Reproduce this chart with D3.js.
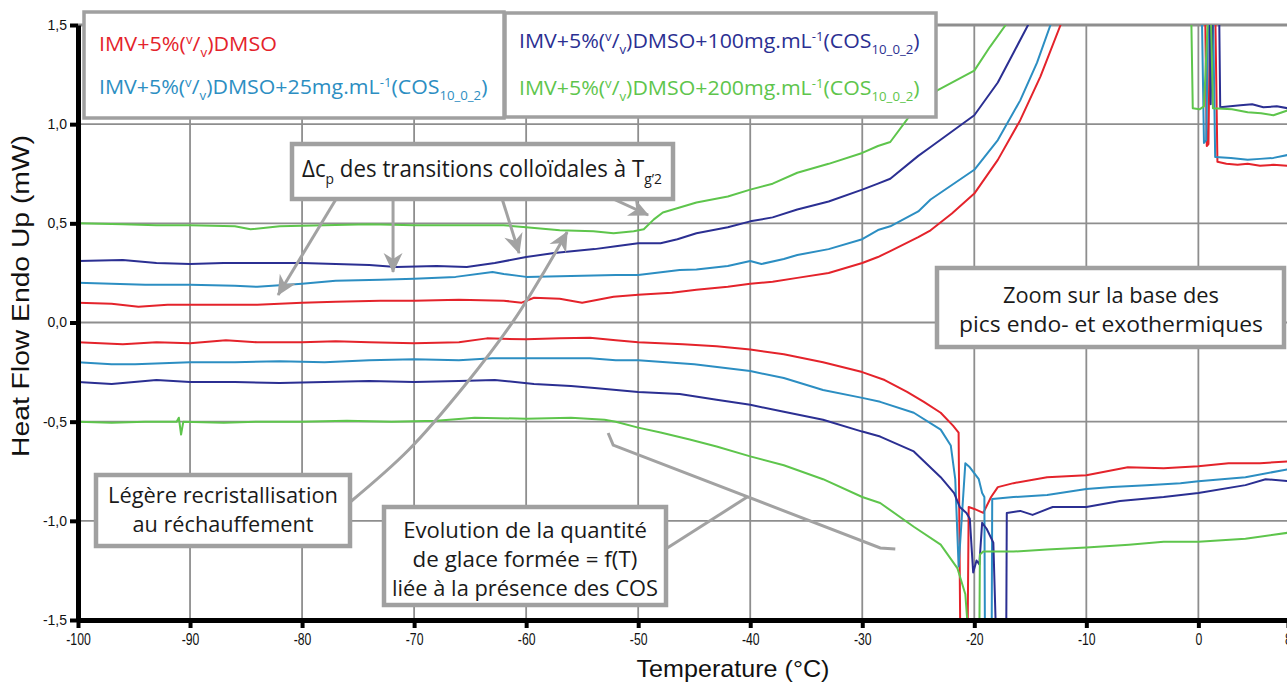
<!DOCTYPE html>
<html lang="fr">
<head>
<meta charset="UTF-8">
<title>DSC - Heat Flow</title>
<script src="https://cdn.jsdelivr.net/npm/d3@7"></script>
<style>
  body { margin: 0; background: #fff; }
  svg { display: block; }
</style>
</head>
<body>
<div id="chart"></div>
<script>
// ---- data (temperature in °C, heat flow in mW) ----
const xTicks = [-100, -90, -80, -70, -60, -50, -40, -30, -20, -10, 0, 8];
const xTickLabels = ["-100", "-90", "-80", "-70", "-60", "-50", "-40", "-30", "-20", "-10", "0", "8"];
const yTicks = [-1.5, -1, -0.5, 0, 0.5, 1, 1.5];
const yTickLabels = ["-1,5", "-1,0", "-0,5", "0,0", "0,5", "1,0", "1,5"];

// heating curves (upper), they leave the frame at the melting peak and come back near 0 °C
const redHeat = [[-100,0.10],[-97,0.095],[-94.6,0.08],[-92,0.09],[-88,0.09],[-84,0.09],[-80,0.10],[-77,0.105],[-73,0.11],[-70,0.11],[-66,0.115],[-62,0.11],[-60.4,0.10],[-59.3,0.125],[-57,0.12],[-55,0.10],[-52.2,0.13],[-50,0.14],[-47,0.15],[-44.8,0.165],[-42,0.18],[-40,0.195],[-38,0.205],[-35.8,0.225],[-33,0.25],[-30,0.30],[-28.6,0.33],[-27.5,0.36],[-25,0.43],[-23.9,0.465],[-22,0.55],[-20,0.65],[-17.9,0.82],[-15.9,1.02],[-14.1,1.24],[-12.3,1.5],[-12,1.6],[0.6,1.6],[0.75,0.89],[0.9,0.9],[1.05,1.6],[1.5,1.6],[1.7,0.81],[2.5,0.80],[3.5,0.795],[4.4,0.80],[5.5,0.79],[6.7,0.795],[8,0.79]];
const cyanHeat = [[-100,0.20],[-97,0.195],[-94,0.19],[-90,0.19],[-86,0.185],[-84,0.18],[-80,0.195],[-77,0.21],[-73,0.215],[-70,0.22],[-66.3,0.23],[-63,0.255],[-62,0.245],[-60,0.23],[-56,0.235],[-52,0.24],[-50,0.24],[-46.3,0.265],[-44.8,0.267],[-42,0.285],[-40,0.31],[-39,0.295],[-37,0.32],[-35.8,0.34],[-33,0.37],[-30,0.42],[-28.6,0.466],[-27.5,0.485],[-25,0.56],[-23.9,0.62],[-20,0.77],[-17.9,0.92],[-15.9,1.12],[-14.4,1.31],[-13.2,1.5],[-13,1.6],[0.3,1.6],[0.5,0.905],[0.7,0.92],[0.9,1.6],[1.3,1.6],[1.5,0.835],[2.9,0.83],[4.4,0.82],[5.5,0.825],[6.7,0.83],[8,0.845]];
const blueHeat = [[-100,0.31],[-96,0.315],[-93,0.30],[-90,0.295],[-87,0.30],[-84,0.30],[-80,0.30],[-77,0.295],[-74,0.29],[-71.6,0.28],[-68,0.285],[-65.3,0.28],[-62.8,0.30],[-60,0.33],[-57.5,0.35],[-53.9,0.37],[-52,0.385],[-50,0.40],[-48,0.40],[-46.5,0.42],[-44.8,0.45],[-42,0.48],[-40,0.51],[-38,0.53],[-35.8,0.57],[-33,0.61],[-30,0.67],[-28.6,0.70],[-27.5,0.725],[-25,0.84],[-23.9,0.885],[-20,1.045],[-17.9,1.21],[-16.5,1.36],[-15.2,1.5],[-15,1.6],[1.0,1.6],[1.1,1.1],[1.3,1.6],[1.85,1.6],[1.95,1.085],[3.75,1.095],[4.8,1.10],[5.8,1.085],[7,1.09],[8,1.08]];
const greenHeat = [[-100,0.50],[-96,0.495],[-93,0.49],[-90,0.49],[-86,0.485],[-84.6,0.47],[-82,0.485],[-78,0.49],[-74,0.495],[-70,0.49],[-66.3,0.49],[-62,0.49],[-60,0.48],[-57,0.465],[-54,0.46],[-52.2,0.45],[-50.4,0.46],[-49.5,0.47],[-48.6,0.52],[-47.8,0.555],[-46.3,0.58],[-44.8,0.605],[-42,0.635],[-40,0.67],[-38,0.70],[-35.8,0.755],[-33,0.80],[-30,0.855],[-28.6,0.89],[-27.5,0.91],[-25.4,1.07],[-23.3,1.17],[-20,1.27],[-18.6,1.39],[-17.2,1.5],[-17,1.6],[-0.65,1.6],[-0.5,1.08],[0.1,1.075],[0.5,1.09],[0.9,1.6],[1.1,1.6],[1.3,1.08],[3,1.075],[4.4,1.06],[5.6,1.055],[6.7,1.045],[8,1.07]];

// cooling curves (lower), crystallisation exotherm leaves the frame at the bottom
const redCool = [[-100,-0.10],[-96,-0.11],[-93,-0.10],[-90,-0.105],[-86.8,-0.09],[-84,-0.10],[-80,-0.10],[-77,-0.095],[-74,-0.10],[-70,-0.105],[-66,-0.10],[-63.5,-0.08],[-60,-0.085],[-57,-0.08],[-54.3,-0.077],[-52,-0.09],[-50,-0.10],[-46,-0.11],[-43,-0.12],[-40,-0.136],[-37,-0.16],[-33.5,-0.20],[-30,-0.25],[-28,-0.29],[-26,-0.35],[-24.5,-0.40],[-23,-0.455],[-21.9,-0.52],[-21.4,-0.555],[-21.25,-1.6],[-20.6,-1.6],[-20.5,-0.93],[-20,-0.94],[-19.2,-0.96],[-18.5,-0.88],[-17.9,-0.83],[-16.5,-0.81],[-13.5,-0.78],[-10,-0.77],[-6.3,-0.73],[-3.1,-0.735],[0,-0.725],[2.7,-0.71],[5.5,-0.71],[8,-0.70]];
const cyanCool = [[-100,-0.20],[-97,-0.21],[-94.9,-0.21],[-90,-0.20],[-86,-0.20],[-82,-0.195],[-78,-0.20],[-74,-0.19],[-70,-0.185],[-66,-0.19],[-63,-0.18],[-60,-0.18],[-57,-0.18],[-54.3,-0.18],[-52,-0.19],[-50,-0.19],[-45,-0.21],[-40,-0.245],[-37,-0.28],[-33.5,-0.34],[-30,-0.38],[-28.4,-0.40],[-25.4,-0.455],[-23,-0.54],[-22.1,-0.62],[-21.7,-0.79],[-21.4,-1.23],[-20.8,-0.71],[-20.4,-0.73],[-19.6,-0.79],[-19.3,-0.86],[-19.1,-0.88],[-19.05,-1.6],[-18.45,-1.6],[-18.4,-0.89],[-16.5,-0.88],[-13.5,-0.87],[-10,-0.84],[-7.7,-0.83],[-4.6,-0.82],[-1.6,-0.81],[0,-0.80],[4.2,-0.78],[8,-0.74]];
const blueCool = [[-100,-0.30],[-97,-0.31],[-93,-0.29],[-90,-0.30],[-86,-0.30],[-82,-0.305],[-78,-0.30],[-74,-0.295],[-70,-0.30],[-66,-0.295],[-62.8,-0.29],[-59.3,-0.31],[-56,-0.32],[-53.9,-0.33],[-50,-0.35],[-46.3,-0.36],[-43,-0.39],[-40,-0.415],[-37,-0.45],[-33.5,-0.49],[-30,-0.55],[-28.4,-0.575],[-25.4,-0.65],[-23,-0.78],[-21.8,-0.86],[-21.3,-0.93],[-20.7,-0.96],[-20.4,-0.99],[-20.1,-1.26],[-19.8,-1.20],[-19.55,-1.22],[-19.3,-1.01],[-18.9,-1.04],[-18.3,-1.11],[-18.05,-1.6],[-17.15,-1.6],[-17.1,-0.96],[-15.9,-0.95],[-14.8,-0.97],[-13,-0.93],[-10,-0.93],[-7,-0.90],[-3.1,-0.88],[0,-0.86],[4.2,-0.82],[6,-0.79],[8,-0.80]];
const greenCool = [[-100,-0.50],[-97,-0.505],[-94,-0.50],[-91.2,-0.50],[-91,-0.48],[-90.8,-0.565],[-90.6,-0.50],[-87,-0.505],[-84,-0.50],[-80,-0.50],[-76,-0.495],[-72,-0.50],[-68,-0.495],[-64.6,-0.48],[-60,-0.485],[-56,-0.48],[-53,-0.49],[-52,-0.50],[-50,-0.53],[-48,-0.555],[-45.4,-0.59],[-43,-0.625],[-40,-0.675],[-37,-0.72],[-33.5,-0.79],[-30,-0.88],[-28.4,-0.91],[-25.4,-1.03],[-23,-1.12],[-21.5,-1.24],[-20.8,-1.37],[-20.5,-1.6],[-19.55,-1.6],[-19.5,-1.17],[-19.2,-1.155],[-16.5,-1.155],[-13.5,-1.145],[-10,-1.135],[-6.2,-1.12],[-3.1,-1.105],[0,-1.105],[4.2,-1.09],[8,-1.06]];

const seriesColors = ["#e4232b", "#2c8ec2", "#2b2f92", "#5ec54c"];
const heatCurves = [redHeat, cyanHeat, blueHeat, greenHeat];
const coolCurves = [redCool, cyanCool, blueCool, greenCool];

// legend names, split in pieces for super/subscripts
const seriesNames = [
  ["IMV+5%(", {t: "v", k: "sup"}, "/", {t: "v", k: "sub"}, ")DMSO"],
  ["IMV+5%(", {t: "v", k: "sup"}, "/", {t: "v", k: "sub"}, ")DMSO+25mg.mL", {t: "-1", k: "sup"}, "(COS", {t: "10_0_2", k: "sub"}, ")"],
  ["IMV+5%(", {t: "v", k: "sup"}, "/", {t: "v", k: "sub"}, ")DMSO+100mg.mL", {t: "-1", k: "sup"}, "(COS", {t: "10_0_2", k: "sub"}, ")"],
  ["IMV+5%(", {t: "v", k: "sup"}, "/", {t: "v", k: "sub"}, ")DMSO+200mg.mL", {t: "-1", k: "sup"}, "(COS", {t: "10_0_2", k: "sub"}, ")"]
];

// ---- layout ----
const width = 1287, height = 682;
const x = d3.scaleLinear().domain([-100, 8]).range([78, 1288]);
const y = d3.scaleLinear().domain([-1.5, 1.5]).range([620, 25]);
const gridColor = "#8e8e8e", noteColor = "#a2a2a2";
const myriad = "'Open Sans', 'Noto Sans', sans-serif";
const helv = "'Liberation Sans', Arial, sans-serif";

const svg = d3.select("#chart").append("svg")
    .attr("width", width)
    .attr("height", height);

const defs = svg.append("defs");
defs.append("clipPath").attr("id", "plot-clip")
  .append("rect").attr("x", 78).attr("y", 25).attr("width", 1210).attr("height", 595);
defs.append("marker")
    .attr("id", "arrow")
    .attr("markerUnits", "userSpaceOnUse")
    .attr("viewBox", "-20 -10 21 20")
    .attr("markerWidth", 21).attr("markerHeight", 20)
    .attr("refX", 0).attr("refY", 0)
    .attr("orient", "auto")
  .append("path")
    .attr("d", "M1,0 L-19,-9.5 L-13,0 L-19,9.5 Z")
    .attr("fill", noteColor);

// grid
svg.append("g").selectAll("line")
  .data(xTicks.filter(d => d > -100 && d < 8))
  .enter().append("line")
    .attr("x1", d => x(d)).attr("x2", d => x(d))
    .attr("y1", y(1.5)).attr("y2", y(-1.5))
    .attr("stroke", gridColor).attr("stroke-width", 1.8);
svg.append("g").selectAll("line")
  .data(yTicks.filter(d => d > -1.5))
  .enter().append("line")
    .attr("x1", x(-100)).attr("x2", x(8))
    .attr("y1", d => y(d)).attr("y2", d => y(d))
    .attr("stroke", gridColor).attr("stroke-width", d => d === 1.5 ? 3 : 1.8);

// curves
const line = d3.line().x(d => x(d[0])).y(d => y(d[1]));
const curves = svg.append("g").attr("clip-path", "url(#plot-clip)");
[coolCurves, heatCurves].forEach(set => {
  curves.selectAll(null)
    .data(set)
    .enter().append("path")
      .attr("d", line)
      .attr("fill", "none")
      .attr("stroke", (d, i) => seriesColors[i])
      .attr("stroke-width", 2)
      .attr("stroke-linejoin", "round");
});

// axes
const yAxis = d3.axisLeft(y).tickValues(yTicks)
    .tickFormat((d, i) => yTickLabels[i]).tickSize(8).tickSizeOuter(0).tickPadding(3);
const xAxis = d3.axisBottom(x).tickValues(xTicks)
    .tickFormat((d, i) => xTickLabels[i]).tickSize(8).tickSizeOuter(0).tickPadding(5);

const gx = svg.append("g").attr("transform", `translate(0,${y(-1.5)})`).call(xAxis);
const gy = svg.append("g").attr("transform", `translate(${x(-100)},0)`).call(yAxis);
[gx, gy].forEach(g => {
  g.select(".domain").attr("stroke", "#000").attr("stroke-width", 5);
  g.selectAll(".tick line").attr("stroke", "#000").attr("stroke-width", 4);
  g.selectAll(".tick text").attr("fill", "#111").style("font-family", helv);
});
gx.selectAll(".tick text").style("font-size", "17px").attr("transform", "scale(0.72,1)");
gy.selectAll(".tick text").style("font-size", "14px");

// text helper: pieces with sub/superscripts, stretched to a measured width
function addText(parent, o) {
  const g = parent.append("g").attr("transform", `translate(${o.x},${o.y})` + (o.rotate ? ` rotate(${o.rotate})` : ""));
  const t = g.append("text")
      .attr("text-anchor", o.anchor || "start")
      .attr("fill", o.fill || "#222")
      .style("font-family", o.family || myriad)
      .style("font-size", o.size + "px");
  let off = 0;
  o.parts.forEach(p => {
    const txt = typeof p === "string" ? p : p.t;
    const k = typeof p === "string" ? null : p.k;
    const target = k === "sup" ? -0.36 * o.size : k === "sub" ? 0.3 * o.size : 0;
    const ts = t.append("tspan").attr("dy", target - off).text(txt);
    if (k) ts.style("font-size", (0.62 * o.size) + "px");
    off = target;
  });
  if (o.width) {
    const w = t.node().getBBox().width;
    t.attr("transform", `scale(${o.width / w},1)`);
  }
  return t;
}

// axis titles
addText(svg, {x: 733, y: 677, anchor: "middle", size: 23, family: helv, fill: "#111", width: 193, parts: ["Temperature (°C)"]});
addText(svg, {x: 29, y: 296, rotate: -90, anchor: "middle", size: 24, family: helv, fill: "#111", width: 322, parts: ["Heat Flow Endo Up (mW)"]});

// ---- annotations (anchored in data units) ----
const notes = svg.append("g");
const dcpArrows = [
  [[-76.96, 0.623], [-82.14, 0.139]],
  [[-71.88, 0.623], [-71.88, 0.255]],
  [[-62.14, 0.623], [-60.63, 0.350]],
  [[-52.23, 0.623], [-49.11, 0.542]]
];
const recristLeader = [[-75.7, -0.905], [-70.5, -0.643], [-65.45, -0.315], [-61.07, 0.013], [-58.3, 0.265], [-56.34, 0.456]];
const iceLeaders = [
  [[-52.68, -0.557], [-52.23, -0.618], [-28.39, -1.137], [-27.05, -1.142]],
  [[-47.41, -1.137], [-40.27, -0.880]]
];
dcpArrows.forEach(a => {
  notes.append("path").attr("d", line(a))
    .attr("fill", "none").attr("stroke", noteColor).attr("stroke-width", 3)
    .attr("marker-end", "url(#arrow)");
});
notes.append("path").attr("d", line.curve(d3.curveCatmullRom)(recristLeader))
  .attr("fill", "none").attr("stroke", noteColor).attr("stroke-width", 3)
  .attr("marker-end", "url(#arrow)");
line.curve(d3.curveLinear);
iceLeaders.forEach(a => {
  notes.append("path").attr("d", line(a))
    .attr("fill", "none").attr("stroke", noteColor).attr("stroke-width", 3);
});

// boxes
const boxes = [
  {x: 84, y: 12, w: 420, h: 106, sw: 3.5},
  {x: 505, y: 13, w: 431, h: 104, sw: 3.5},
  {x: 292, y: 144, w: 381, h: 55, sw: 4.5},
  {x: 96, y: 475, w: 254, h: 71, sw: 4.5},
  {x: 384, y: 507, w: 282, h: 98, sw: 4.5},
  {x: 937, y: 268, w: 347, h: 79, sw: 4.5}
];
svg.append("g").selectAll("rect")
  .data(boxes)
  .enter().append("rect")
    .attr("x", d => d.x).attr("y", d => d.y)
    .attr("width", d => d.w).attr("height", d => d.h)
    .attr("fill", "#fff").attr("stroke", "#a0a0a0")
    .attr("stroke-width", d => d.sw);

// legend
const legendPos = [{x: 99, y: 51, w: 178}, {x: 99, y: 94, w: 389}, {x: 519, y: 48, w: 401}, {x: 519, y: 95, w: 401}];
seriesNames.forEach((parts, i) => {
  addText(svg, {x: legendPos[i].x, y: legendPos[i].y, size: 20, fill: seriesColors[i], width: legendPos[i].w, parts: parts});
});

// annotation texts
const noteTexts = [
  {x: 302, y: 177, anchor: "start", size: 24, width: 360, parts: ["Δc", {t: "p", k: "sub"}, " des transitions colloïdales à T", {t: "g’2", k: "sub"}]},
  {x: 223, y: 503, anchor: "middle", width: 230, parts: ["Légère recristallisation"]},
  {x: 223, y: 532, anchor: "middle", width: 181, parts: ["au réchauffement"]},
  {x: 525, y: 538, anchor: "middle", width: 244, parts: ["Evolution de la quantité"]},
  {x: 525, y: 567, anchor: "middle", width: 225, parts: ["de glace formée = f(T)"]},
  {x: 525, y: 596, anchor: "middle", width: 266, parts: ["liée à la présence des COS"]},
  {x: 1111, y: 303, anchor: "middle", width: 216, parts: ["Zoom sur la base des"]},
  {x: 1111, y: 332, anchor: "middle", width: 304, parts: ["pics endo- et exothermiques"]}
];
noteTexts.forEach(n => addText(svg, Object.assign({size: 21, fill: "#1a1a1a"}, n)));
</script>
</body>
</html>
